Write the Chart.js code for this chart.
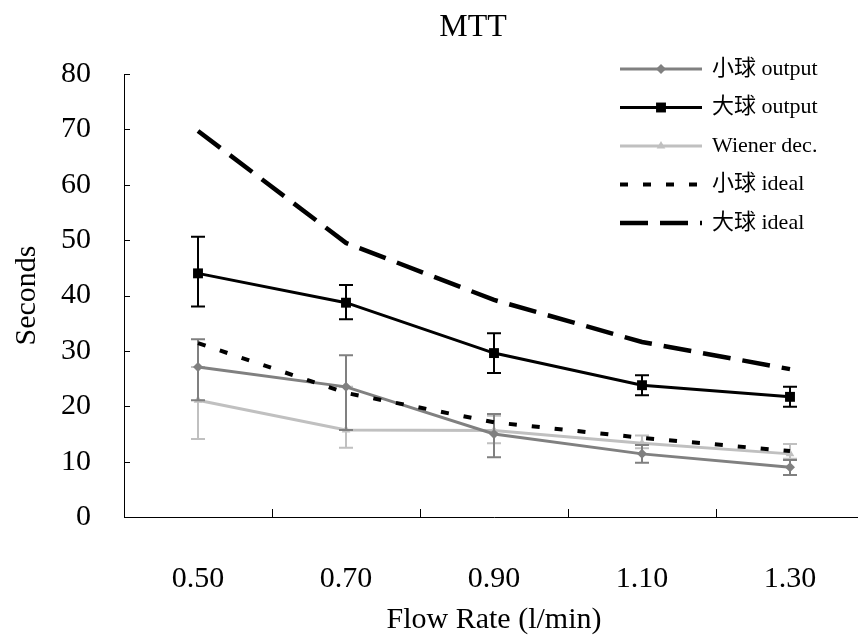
<!DOCTYPE html>
<html><head><meta charset="utf-8">
<script src="https://cdn.jsdelivr.net/npm/chart.js@4.4.1/dist/chart.umd.min.js"></script>
<style>html,body{margin:0;padding:0;background:#fff;overflow:hidden}
#outer{width:858px;height:641px;overflow:hidden;position:relative}
canvas{display:block}</style>
</head><body><div id="outer"><canvas id="c" width="864" height="641" style="width:864px;height:641px"></canvas></div>
<script>
// ---- data ----
const categories = ['0.50', '0.70', '0.90', '1.10', '1.30'];
const yTickValues = [0, 10, 20, 30, 40, 50, 60, 70, 80];
const chartTitle = 'MTT';

const smallOutput   = [27.1, 23.5, 15.0, 11.4, 9.0];
const smallOutputHi = [32.1, 29.2, 18.6, 13.0, 10.3];
const smallOutputLo = [21.1, 15.7, 10.8, 9.8, 7.6];

const largeOutput   = [44.0, 38.7, 29.6, 23.8, 21.7];
const largeOutputHi = [50.6, 41.9, 33.2, 25.6, 23.5];
const largeOutputLo = [38.0, 35.7, 26.0, 22.0, 19.9];

const wienerDec     = [21.1, 15.7, 15.6, 13.3, 11.4];
const wienerDecHi   = [27.1, 23.5, 18.3, 14.7, 13.2];
const wienerDecLo   = [14.1, 12.5, 13.3, 12.4, 10.5];

const smallIdeal    = [31.4, 22.4, 17.1, 14.3, 11.9];
const largeIdeal    = [69.7, 49.5, 39.2, 31.6, 26.7];

const seriesNames = ['小球 output', '大球 output', 'Wiener dec.', '小球 ideal', '大球 ideal'];

// ---- styling ----
const FONT = "'Liberation Serif', 'Noto Sans CJK TC', serif";

const datasets = [
  { label: seriesNames[0], data: smallOutput, hi: smallOutputHi, lo: smallOutputLo,
    borderColor: '#808080', backgroundColor: '#808080', borderWidth: 3,
    pointStyle: 'rectRot', pointRadius: 5, order: 3, errColor: '#808080' },
  { label: seriesNames[1], data: largeOutput, hi: largeOutputHi, lo: largeOutputLo,
    borderColor: '#000000', backgroundColor: '#000000', borderWidth: 3,
    pointStyle: 'rect', pointRadius: 7, order: 2, errColor: '#000000' },
  { label: seriesNames[2], data: wienerDec, hi: wienerDecHi, lo: wienerDecLo,
    borderColor: '#c0c0c0', backgroundColor: '#c0c0c0', borderWidth: 3,
    pointStyle: 'triangle', pointRadius: 5, order: 4, errColor: '#c0c0c0' },
  { label: seriesNames[3], data: smallIdeal,
    borderColor: '#000000', backgroundColor: '#000000', borderWidth: 4,
    borderDash: [8, 15], pointRadius: 0, order: 0 },
  { label: seriesNames[4], data: largeIdeal,
    borderColor: '#000000', backgroundColor: '#000000', borderWidth: 4.5,
    borderDash: [28, 12], pointRadius: 0, order: 1 }
];
datasets.forEach(d => { d.fill = false; d.tension = 0; d.pointBorderWidth = 0; d.borderCapStyle = 'butt'; });

function drawMarker(ctx, style, r, x, y, color) {
  ctx.save();
  ctx.fillStyle = color;
  ctx.beginPath();
  if (style === 'rect') {
    const s = Math.SQRT1_2 * r;
    ctx.rect(x - s, y - s, 2 * s, 2 * s);
  } else if (style === 'rectRot') {
    ctx.moveTo(x, y - r); ctx.lineTo(x + r, y); ctx.lineTo(x, y + r); ctx.lineTo(x - r, y); ctx.closePath();
  } else if (style === 'triangle') {
    const h = r * 1.5, w = r * Math.sqrt(3);
    ctx.moveTo(x, y - r); ctx.lineTo(x + w / 2, y + h - r); ctx.lineTo(x - w / 2, y + h - r); ctx.closePath();
  }
  ctx.fill();
  ctx.restore();
}

const errorBars = {
  id: 'errorBars',
  afterDatasetDraw(chart, args) {
    const ds = chart.data.datasets[args.index];
    if (!ds.hi) return;
    const ctx = chart.ctx, x = chart.scales.x, y = chart.scales.y;
    ctx.save();
    ctx.strokeStyle = ds.errColor;
    ctx.lineWidth = 2;
    ds.data.forEach((v, i) => {
      const px = x.getPixelForValue(i);
      const top = y.getPixelForValue(ds.hi[i]);
      const bot = y.getPixelForValue(ds.lo[i]);
      ctx.beginPath();
      ctx.moveTo(px, top); ctx.lineTo(px, bot);
      ctx.moveTo(px - 7, top); ctx.lineTo(px + 7, top);
      ctx.moveTo(px - 7, bot); ctx.lineTo(px + 7, bot);
      ctx.stroke();
    });
    ctx.restore();
  }
};

const innerTicks = {
  id: 'innerTicks',
  afterDraw(chart) {
    const ctx = chart.ctx, xs = chart.scales.x, ys = chart.scales.y, a = chart.chartArea;
    ctx.save();
    ctx.strokeStyle = '#000';
    ctx.lineWidth = 1;
    ctx.beginPath();
    yTickValues.forEach(v => {
      const py = Math.round(ys.getPixelForValue(v)) + 0.5;
      ctx.moveTo(a.left, py); ctx.lineTo(a.left + 6, py);
    });
    for (let i = 0; i < categories.length; i++) {
      const px = Math.round((xs.getPixelForValue(i) + xs.getPixelForValue(i + 1)) / 2) + 0.5;
      ctx.moveTo(px, a.bottom); ctx.lineTo(px, a.bottom - 8);
    }
    ctx.stroke();
    ctx.restore();
  }
};

const titleAndLegend = {
  id: 'titleAndLegend',
  afterDraw(chart) {
    const ctx = chart.ctx;
    ctx.save();
    ctx.fillStyle = '#000';
    ctx.font = '32px ' + FONT;
    ctx.textAlign = 'center';
    ctx.textBaseline = 'middle';
    ctx.fillText(chartTitle, 473, 28);

    const x0 = 620, x1 = 702, tx = 712, y0 = 69, dy = 38.5;
    chart.data.datasets.forEach((ds, i) => {
      const yy = y0 + dy * i;
      ctx.strokeStyle = ds.borderColor;
      ctx.lineWidth = ds.borderWidth;
      ctx.setLineDash(ds.borderDash || []);
      ctx.lineCap = 'butt';
      ctx.beginPath(); ctx.moveTo(x0, yy); ctx.lineTo(x1, yy); ctx.stroke();
      ctx.setLineDash([]);
      if (ds.pointRadius) drawMarker(ctx, ds.pointStyle, ds.pointRadius, (x0 + x1) / 2, yy, ds.backgroundColor);
      ctx.fillStyle = '#000';
      ctx.font = '22px ' + FONT;
      ctx.textBaseline = 'middle';
      ctx.textAlign = 'left';
      ctx.fillText(ds.label, tx, yy);
    });
    ctx.restore();
  }
};

new Chart(document.getElementById('c'), {
  type: 'line',
  data: { labels: categories, datasets },
  options: {
    responsive: false, animation: false, events: [],
    layout: { autoPadding: false, padding: { left: 0, right: 0, top: 74, bottom: 0 } },
    plugins: {
      legend: { display: false }, tooltip: { enabled: false }, title: { display: false }
    },
    scales: {
      x: {
        type: 'category', offset: true,
        grid: { display: false, offset: true, drawTicks: false },
        border: { display: true, color: '#000', width: 1 },
        ticks: { color: '#000', font: { family: FONT, size: 30 }, padding: 44, maxRotation: 0, autoSkip: false },
        title: { display: true, text: 'Flow Rate (l/min)', color: '#000', font: { family: FONT, size: 30 }, padding: { top: 0, bottom: 3 } },
        afterFit(s) { s.height = 124; }
      },
      y: {
        min: 0, max: 80,
        grid: { display: false, drawTicks: false },
        border: { display: true, color: '#000', width: 1 },
        ticks: { stepSize: 10, color: '#000', font: { family: FONT, size: 30 }, padding: 33 },
        title: { display: true, text: 'Seconds', color: '#000', font: { family: FONT, size: 30 }, padding: { top: 9, bottom: 0 } },
        afterFit(s) { s.width = 124; }
      }
    }
  },
  plugins: [errorBars, innerTicks, titleAndLegend]
});
</script>
</body></html>
